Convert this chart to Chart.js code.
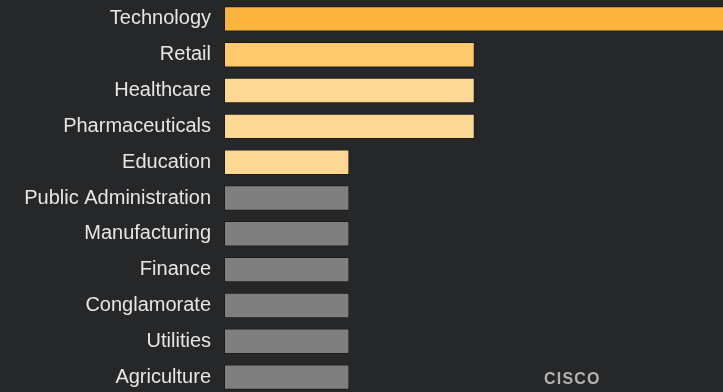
<!DOCTYPE html>
<html>
<head>
<meta charset="utf-8">
<script src="https://cdn.jsdelivr.net/npm/chart.js@4/dist/chart.umd.min.js"></script>
<style>
  html, body { margin: 0; padding: 0; background: #262729; overflow: hidden; width: 723px; height: 392px; }
  #wrap { position: absolute; left: 0; top: 0; width: 723px; height: 395px; }
  #brand { position: absolute; left: 544px; top: 370px; font-family: "Liberation Sans", Arial, sans-serif; font-weight: bold; font-size: 16px; letter-spacing: 1.2px; color: #b3b3b3; }
</style>
</head>
<body>
<div id="wrap"><canvas id="c"></canvas></div>
<div id="brand">CISCO</div>
<script>
const categories = ["Technology", "Retail", "Healthcare", "Pharmaceuticals", "Education", "Public Administration", "Manufacturing", "Finance", "Conglamorate", "Utilities", "Agriculture"];
const values = [4, 2, 2, 2, 1, 1, 1, 1, 1, 1, 1];
const barColors = ["#fbb53e", "#fcca6c", "#fdd894", "#fdd894", "#fdd894", "#7f7f7f", "#7f7f7f", "#7f7f7f", "#7f7f7f", "#7f7f7f", "#7f7f7f"];

new Chart(document.getElementById("c"), {
  type: "bar",
  data: {
    labels: categories,
    datasets: [{
      data: values,
      backgroundColor: barColors,
      borderColor: "rgba(20,18,14,0.55)",
      borderWidth: 1,
      borderSkipped: false,
      categoryPercentage: 1,
      barPercentage: 0.71
    }]
  },
  options: {
    indexAxis: "y",
    responsive: true,
    maintainAspectRatio: false,
    animation: false,
    layout: { padding: { top: 1, right: 0, bottom: 0, left: 0 } },
    plugins: { legend: { display: false }, tooltip: { enabled: false } },
    scales: {
      x: {
        display: false,
        min: 0,
        max: 3.98
      },
      y: {
        grid: { display: false, drawTicks: false },
        border: { display: false },
        ticks: {
          color: "#e6e6e6",
          padding: 13,
          font: { family: "'Liberation Sans', Arial, sans-serif", size: 20 }
        },
        afterFit(scale) {
          scale.width = 224;
          scale.paddingTop = 0;
          scale.paddingBottom = 0;
        }
      }
    }
  }
});
</script>
</body>
</html>
